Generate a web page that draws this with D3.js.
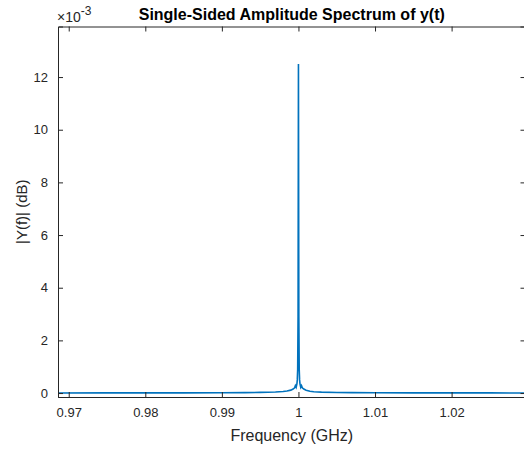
<!DOCTYPE html>
<html>
<head>
<meta charset="utf-8">
<script src="https://cdn.jsdelivr.net/npm/d3@7"></script>
<style>
  body { margin: 0; background: #fff; }
  svg { display: block; font-family: Arial, "Liberation Sans", Helvetica, sans-serif; }
</style>
</head>
<body>
<div id="chart"></div>
<script>
// spectrum samples (freq in GHz, amplitude in units of 1e-3)
var freq = [0.9686, 0.975, 0.98, 0.985, 0.99, 0.993, 0.995, 0.997, 0.998, 0.9985, 0.999, 0.9993, 0.9995, 0.9996, 0.9997, 0.9998, 0.99985, 0.9999, 0.99995, 1.0, 1.00005, 1.0001, 1.00015, 1.0002, 1.0003, 1.0004, 1.0005, 1.0007, 1.001, 1.0015, 1.002, 1.003, 1.005, 1.007, 1.01, 1.015, 1.02, 1.025, 1.0297];
var amp = [0.004, 0.005, 0.006, 0.008, 0.012, 0.018, 0.025, 0.04, 0.06, 0.08, 0.11, 0.15, 0.2, 0.28, 0.22, 0.35, 0.5, 0.9, 2.9, 12.5, 2.9, 0.9, 0.5, 0.35, 0.22, 0.28, 0.2, 0.15, 0.11, 0.07, 0.05, 0.035, 0.022, 0.016, 0.011, 0.008, 0.006, 0.005, 0.004];
var xTicks = [0.97, 0.98, 0.99, 1, 1.01, 1.02];
var yTicks = [0, 2, 4, 6, 8, 10, 12];

(function() {
  var width = 524, height = 451;
  var margin = {left: 58, top: 26.5, right: -1.5, bottom: 54};
  var x0 = margin.left, x1 = width - margin.right;
  var y0 = margin.top, y1 = height - margin.bottom;
  var axisColor = "#262626";
  var noLabel = function(){ return ""; };

  var x = d3.scaleLinear().domain([0.9686, 1.02965]).range([x0, x1]);
  var y = d3.scaleLinear().domain([-0.15, 13.92]).range([y1, y0]);

  var svg = d3.select("#chart").append("svg")
    .attr("width", width).attr("height", height);

  svg.append("clipPath").attr("id", "clip")
    .append("rect").attr("x", x0).attr("y", y0).attr("width", x1 - x0).attr("height", y1 - y0);

  var data = freq.map(function(f, i){ return {f: f, a: amp[i]}; });
  var line = d3.line().x(function(d){ return x(d.f); }).y(function(d){ return y(d.a); });

  svg.append("path")
    .datum(data)
    .attr("clip-path", "url(#clip)")
    .attr("d", line)
    .attr("fill", "none")
    .attr("stroke", "#0072BD")
    .attr("stroke-width", 1.6);

  // axes: ticks point inward, mirrored on top and right
  var g = svg.append("g");
  var axB = d3.axisBottom(x).tickValues(xTicks).tickSize(-5).tickPadding(11)
    .tickFormat(function(d){ return String(+d.toFixed(2)); });
  var axT = d3.axisTop(x).tickValues(xTicks).tickSize(-5).tickFormat(noLabel);
  var axL = d3.axisLeft(y).tickValues(yTicks).tickSize(-5).tickPadding(10);
  var axR = d3.axisRight(y).tickValues(yTicks).tickSize(-5).tickFormat(noLabel);

  g.append("g").attr("transform", "translate(0," + y1 + ")").call(axB);
  g.append("g").attr("transform", "translate(0," + y0 + ")").call(axT);
  g.append("g").attr("transform", "translate(" + x0 + ",0)").call(axL);
  g.append("g").attr("transform", "translate(" + x1 + ",0)").call(axR);

  g.selectAll(".domain").attr("stroke", axisColor).attr("stroke-width", 1);
  g.selectAll(".tick line").attr("stroke", axisColor);
  g.selectAll(".tick text").attr("fill", axisColor)
    .style("font-size", "13px").style("font-family", "Arial, 'Liberation Sans', sans-serif");

  // exponent label
  var ex = svg.append("text").attr("x", x0 - 1).attr("y", 22).attr("fill", axisColor)
    .style("font-size", "14px");
  ex.append("tspan").text("\u00d710");
  ex.append("tspan").attr("dy", -7).style("font-size", "12px").text("-3");

  svg.append("text")
    .attr("x", (x0 + x1) / 2).attr("y", 20)
    .attr("text-anchor", "middle")
    .attr("fill", "#000")
    .style("font-size", "16px").style("font-weight", "bold")
    .text("Single-Sided Amplitude Spectrum of y(t)");

  svg.append("text")
    .attr("x", (x0 + x1) / 2).attr("y", 441)
    .attr("text-anchor", "middle")
    .attr("fill", axisColor)
    .style("font-size", "16px")
    .text("Frequency (GHz)");

  svg.append("text")
    .attr("transform", "translate(27," + ((y0 + y1) / 2) + ") rotate(-90)")
    .attr("text-anchor", "middle")
    .attr("fill", axisColor)
    .style("font-size", "15px")
    .text("|Y(f)| (dB)");
}());
</script>
</body>
</html>
